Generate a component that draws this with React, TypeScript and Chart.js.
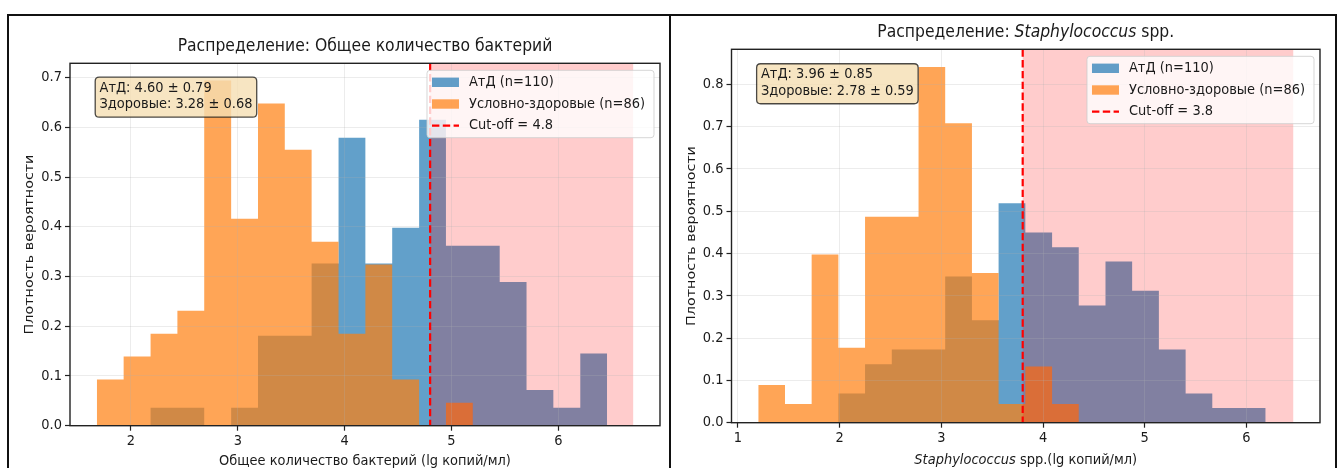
import React, { useEffect, useRef } from 'react';
import { Chart, registerables } from 'chart.js';

Chart.register(...registerables);

const FONT = '"DejaVu Sans", "Noto Sans", sans-serif';
Chart.defaults.font.family = FONT;

// ---------- Left panel: total bacteria ----------
const totalBinEdges = [1.681, 1.932, 2.184, 2.435, 2.686, 2.938, 3.189, 3.44, 3.691, 3.943, 4.194, 4.445, 4.697, 4.948, 5.199, 5.451, 5.702, 5.953, 6.205, 6.456];
const totalAtdDensity = [0, 0, 0.036, 0.036, 0, 0.036, 0.181, 0.181, 0.326, 0.579, 0.326, 0.398, 0.615, 0.362, 0.362, 0.289, 0.072, 0.036, 0.145];
const totalHealthyDensity = [0.093, 0.139, 0.185, 0.231, 0.694, 0.416, 0.648, 0.555, 0.37, 0.185, 0.324, 0.093, 0, 0.046, 0, 0, 0, 0, 0];
const totalCutoff = 4.8;
const totalSpanEnd = 6.7;
const totalXTicks = [2, 3, 4, 5, 6];
const totalYTicks = [0, 0.1, 0.2, 0.3, 0.4, 0.5, 0.6, 0.7];
const totalStats = ['АтД: 4.60 ± 0.79', 'Здоровые: 3.28 ± 0.68'];
const totalTitle = [{ text: 'Распределение: Общее количество бактерий' }];
const totalXLabel = [{ text: 'Общее количество бактерий (lg копий/мл)' }];

// ---------- Right panel: Staphylococcus spp. ----------
const staphBinEdges = [1.2, 1.463, 1.725, 1.988, 2.25, 2.513, 2.776, 3.038, 3.301, 3.563, 3.826, 4.089, 4.351, 4.614, 4.876, 5.139, 5.402, 5.664, 5.927, 6.189];
const staphAtdDensity = [0, 0, 0, 0.069, 0.138, 0.173, 0.173, 0.346, 0.242, 0.519, 0.45, 0.415, 0.277, 0.381, 0.312, 0.173, 0.069, 0.035, 0.035];
const staphHealthyDensity = [0.089, 0.044, 0.398, 0.177, 0.487, 0.487, 0.841, 0.708, 0.354, 0.044, 0.133, 0.044, 0, 0, 0, 0, 0, 0, 0];
const staphCutoff = 3.8;
const staphSpanEnd = 6.46;
const staphXTicks = [1, 2, 3, 4, 5, 6];
const staphYTicks = [0, 0.1, 0.2, 0.3, 0.4, 0.5, 0.6, 0.7, 0.8];
const staphStats = ['АтД: 3.96 ± 0.85', 'Здоровые: 2.78 ± 0.59'];
const staphTitle = [{ text: 'Распределение: ' }, { text: 'Staphylococcus', italic: true }, { text: ' spp.' }];
const staphXLabel = [{ text: 'Staphylococcus', italic: true }, { text: ' spp.(lg копий/мл)' }];

// ---------- shared labels ----------
const seriesLabels = ['АтД (n=110)', 'Условно-здоровые (n=86)'];
const yAxisLabel = 'Плотность вероятности';

const BLUE = 'rgba(31,119,180,0.7)';
const ORANGE = 'rgba(255,127,14,0.7)';
const TEXT = '#1a1a1a';
const BASE = 14.3; // font px
const TITLE = 17.16;
const SX = 0.909; // slight horizontal squeeze of text, as in the reference

type Part = { text: string; italic?: boolean };
type Box = { left: number; top: number; width: number; height: number };
type PanelSpec = {
  edges: number[];
  atd: number[];
  healthy: number[];
  cutoff: number;
  spanEnd: number;
  xTicks: number[];
  yTicks: number[];
  stats: string[];
  title: Part[];
  xLabel: Part[];
  frame: Box;
  canvas: Box;
  padding: { left: number; right: number; top: number; bottom: number };
  xLabelOffset: number;
};

const panels: PanelSpec[] = [
  {
    edges: totalBinEdges,
    atd: totalAtdDensity,
    healthy: totalHealthyDensity,
    cutoff: totalCutoff,
    spanEnd: totalSpanEnd,
    xTicks: totalXTicks,
    yTicks: totalYTicks,
    stats: totalStats,
    title: totalTitle,
    xLabel: totalXLabel,
    frame: { left: 7, top: 14, width: 664, height: 480 },
    canvas: { left: 9, top: 16, width: 659, height: 452 },
    padding: { left: 11, right: 8, top: 47.3, bottom: 17.3 },
    xLabelOffset: 35.5,
  },
  {
    edges: staphBinEdges,
    atd: staphAtdDensity,
    healthy: staphHealthyDensity,
    cutoff: staphCutoff,
    spanEnd: staphSpanEnd,
    xTicks: staphXTicks,
    yTicks: staphYTicks,
    stats: staphStats,
    title: staphTitle,
    xLabel: staphXLabel,
    frame: { left: 669, top: 14, width: 668, height: 480 },
    canvas: { left: 671, top: 16, width: 664, height: 452 },
    padding: { left: 10.5, right: 15, top: 33.3, bottom: 20.3 },
    xLabelOffset: 37.5,
  },
];

function toSteps(edges: number[], heights: number[]) {
  const pts = heights.map((h, i) => ({ x: edges[i], y: h }));
  pts.push({ x: edges[edges.length - 1], y: 0 });
  return pts;
}

function roundRect(ctx: CanvasRenderingContext2D, x: number, y: number, w: number, h: number, r: number) {
  ctx.beginPath();
  ctx.moveTo(x + r, y);
  ctx.lineTo(x + w - r, y);
  ctx.quadraticCurveTo(x + w, y, x + w, y + r);
  ctx.lineTo(x + w, y + h - r);
  ctx.quadraticCurveTo(x + w, y + h, x + w - r, y + h);
  ctx.lineTo(x + r, y + h);
  ctx.quadraticCurveTo(x, y + h, x, y + h - r);
  ctx.lineTo(x, y + r);
  ctx.quadraticCurveTo(x, y, x + r, y);
  ctx.closePath();
}

function fontOf(size: number, italic?: boolean) {
  return `${italic ? 'italic ' : ''}${size}px ${FONT}`;
}

// width in page pixels (after horizontal squeeze) of plain text
function textWidth(ctx: CanvasRenderingContext2D, text: string, size: number) {
  ctx.font = fontOf(size);
  return ctx.measureText(text).width * SX;
}

// draws text segments, squeezed horizontally in page space; align: 'left' | 'center' | 'right'
function drawText(
  ctx: CanvasRenderingContext2D,
  parts: Part[],
  x: number,
  y: number,
  size: number,
  align: 'left' | 'center' | 'right',
  rotate = 0
) {
  const widths = parts.map((p) => {
    ctx.font = fontOf(size, p.italic);
    return ctx.measureText(p.text).width;
  });
  const total = widths.reduce((a, b) => a + b, 0);
  let cx = align === 'center' ? -total / 2 : align === 'right' ? -total : 0;
  ctx.save();
  ctx.translate(x, y);
  ctx.scale(SX, 1);
  if (rotate) ctx.rotate(rotate);
  ctx.textAlign = 'left';
  ctx.textBaseline = 'middle';
  ctx.fillStyle = TEXT;
  parts.forEach((p, i) => {
    ctx.font = fontOf(size, p.italic);
    ctx.fillText(p.text, cx, 0);
    cx += widths[i];
  });
  ctx.restore();
}

function HistPanel({ spec }: { spec: PanelSpec }) {
  const ref = useRef<HTMLCanvasElement>(null);

  useEffect(() => {
    const canvas = ref.current;
    if (!canvas) return;
    const xLo = Math.min(spec.edges[0], spec.cutoff);
    const xHi = Math.max(spec.edges[spec.edges.length - 1], spec.spanEnd);
    const margin = (xHi - xLo) * 0.05;
    const yMax = Math.max(...spec.atd, ...spec.healthy) * 1.05;
    const cutLabel = `Cut-off = ${spec.cutoff}`;

    const decor = {
      id: 'decor',
      afterDatasetsDraw(chart: any) {
        const { ctx, chartArea: ca, scales } = chart;
        const x1 = scales.x.getPixelForValue(spec.cutoff);
        const x2 = scales.x.getPixelForValue(spec.spanEnd);
        ctx.save();
        ctx.fillStyle = 'rgba(255,0,0,0.2)';
        ctx.fillRect(x1, ca.top, x2 - x1, ca.bottom - ca.top);
        ctx.restore();
      },
      afterDraw(chart: any) {
        const { ctx, chartArea: ca, scales } = chart;
        const w = ca.right - ca.left;
        const h = ca.bottom - ca.top;
        ctx.save();
        // cut-off line
        const xc = scales.x.getPixelForValue(spec.cutoff);
        ctx.strokeStyle = '#ff0000';
        ctx.lineWidth = 2.2;
        ctx.setLineDash([7.4, 3.4]);
        ctx.beginPath();
        ctx.moveTo(xc, ca.top);
        ctx.lineTo(xc, ca.bottom);
        ctx.stroke();
        ctx.setLineDash([]);
        // spines
        ctx.strokeStyle = '#222';
        ctx.lineWidth = 1.4;
        ctx.strokeRect(ca.left, ca.top, w, h);

        // tick labels
        spec.xTicks.forEach((v) => {
          drawText(ctx, [{ text: String(v) }], scales.x.getPixelForValue(v), ca.bottom + 15.5, BASE, 'center');
        });
        spec.yTicks.forEach((v) => {
          drawText(ctx, [{ text: v.toFixed(1) }], ca.left - 8, scales.y.getPixelForValue(v), BASE, 'right');
        });

        // stats text box
        const sw = Math.max(...spec.stats.map((s) => textWidth(ctx, s, BASE)));
        const tx = ca.left + 0.05 * w;
        const bTop = ca.top + 0.05 * h - 4.2;
        roundRect(ctx, tx - 4.3, bTop, sw + 8.6, 40, 4);
        ctx.fillStyle = 'rgba(245,222,179,0.8)';
        ctx.fill();
        ctx.strokeStyle = 'rgba(0,0,0,0.7)';
        ctx.lineWidth = 1.3;
        ctx.stroke();
        spec.stats.forEach((s, i) => drawText(ctx, [{ text: s }], tx, bTop + 11 + i * 16.5, BASE, 'left'));

        // legend
        const labels = [seriesLabels[0], seriesLabels[1], cutLabel];
        const lw = Math.max(...labels.map((s) => textWidth(ctx, s, BASE)));
        const pad = 5;
        const handleW = 27;
        const gap = 10;
        const bw = pad + handleW + gap + lw + pad + 4;
        const right = ca.right - 6;
        const left = right - bw;
        const lTop = ca.top + 7;
        const row0 = ca.top + 19;
        const step = 21.7;
        const lBottom = row0 + 2 * step + 12;
        roundRect(ctx, left, lTop, bw, lBottom - lTop, 3);
        ctx.fillStyle = 'rgba(255,255,255,0.8)';
        ctx.fill();
        ctx.strokeStyle = 'rgba(204,204,204,0.8)';
        ctx.lineWidth = 1;
        ctx.stroke();
        labels.forEach((s, i) => {
          const ry = row0 + i * step;
          if (i < 2) {
            ctx.fillStyle = i === 0 ? BLUE : ORANGE;
            ctx.fillRect(left + pad, ry - 4.7, handleW, 9.4);
          } else {
            ctx.strokeStyle = '#ff0000';
            ctx.lineWidth = 2.2;
            ctx.setLineDash([7.4, 3.4]);
            ctx.beginPath();
            ctx.moveTo(left + pad, ry);
            ctx.lineTo(left + pad + handleW, ry);
            ctx.stroke();
            ctx.setLineDash([]);
          }
          drawText(ctx, [{ text: s }], left + pad + handleW + gap, ry, BASE, 'left');
        });

        // title & axis labels
        drawText(ctx, spec.title, (ca.left + ca.right) / 2, ca.top - 16.5, TITLE, 'center');
        drawText(ctx, spec.xLabel, (ca.left + ca.right) / 2, ca.bottom + spec.xLabelOffset, BASE, 'center');
        drawText(ctx, [{ text: yAxisLabel }], ca.left - 40, (ca.top + ca.bottom) / 2, BASE, 'center', -Math.PI / 2);
        ctx.restore();
      },
    };

    const gridCommon = {
      color: 'rgba(176,176,176,0.3)',
      lineWidth: 0.8,
      z: 1,
      tickColor: '#222',
      tickLength: 5,
      tickWidth: 1.2,
    };

    const chart = new Chart(canvas, {
      type: 'line',
      data: {
        datasets: [
          {
            label: seriesLabels[0],
            data: toSteps(spec.edges, spec.atd),
            stepped: 'before',
            fill: 'origin',
            backgroundColor: BLUE,
            borderColor: 'rgba(0,0,0,0)',
            borderWidth: 0,
            pointRadius: 0,
            order: 2,
          },
          {
            label: seriesLabels[1],
            data: toSteps(spec.edges, spec.healthy),
            stepped: 'before',
            fill: 'origin',
            backgroundColor: ORANGE,
            borderColor: 'rgba(0,0,0,0)',
            borderWidth: 0,
            pointRadius: 0,
            order: 1,
          },
        ],
      },
      options: {
        animation: false,
        responsive: false,
        maintainAspectRatio: false,
        events: [],
        layout: { padding: spec.padding },
        plugins: {
          legend: { display: false },
          tooltip: { enabled: false },
          title: { display: false },
        },
        scales: {
          x: {
            type: 'linear',
            min: xLo - margin,
            max: xHi + margin,
            afterBuildTicks: (s: any) => {
              s.ticks = spec.xTicks.map((v) => ({ value: v }));
            },
            afterFit: (s: any) => {
              s.height = 25;
            },
            grid: gridCommon,
            border: { display: false },
            ticks: { display: false },
          },
          y: {
            type: 'linear',
            min: 0,
            max: yMax,
            afterBuildTicks: (s: any) => {
              s.ticks = spec.yTicks.map((v) => ({ value: v }));
            },
            afterFit: (s: any) => {
              s.width = 50;
            },
            grid: gridCommon,
            border: { display: false },
            ticks: { display: false },
          },
        },
      },
      plugins: [decor],
    } as any);

    return () => chart.destroy();
  }, [spec]);

  return (
    <>
      <div
        style={{
          position: 'absolute',
          left: spec.frame.left,
          top: spec.frame.top,
          width: spec.frame.width,
          height: spec.frame.height,
          border: '2px solid #111',
          boxSizing: 'border-box',
          background: '#fff',
        }}
      />
      <canvas
        ref={ref}
        width={spec.canvas.width}
        height={spec.canvas.height}
        style={{
          position: 'absolute',
          left: spec.canvas.left,
          top: spec.canvas.top,
          width: spec.canvas.width,
          height: spec.canvas.height,
        }}
      />
    </>
  );
}

export default function App() {
  return (
    <div
      style={{
        position: 'fixed',
        left: 0,
        top: 0,
        width: 1338,
        height: 468,
        overflow: 'hidden',
        background: '#fff',
      }}
    >
      {panels.map((p, i) => (
        <HistPanel key={i} spec={p} />
      ))}
    </div>
  );
}
